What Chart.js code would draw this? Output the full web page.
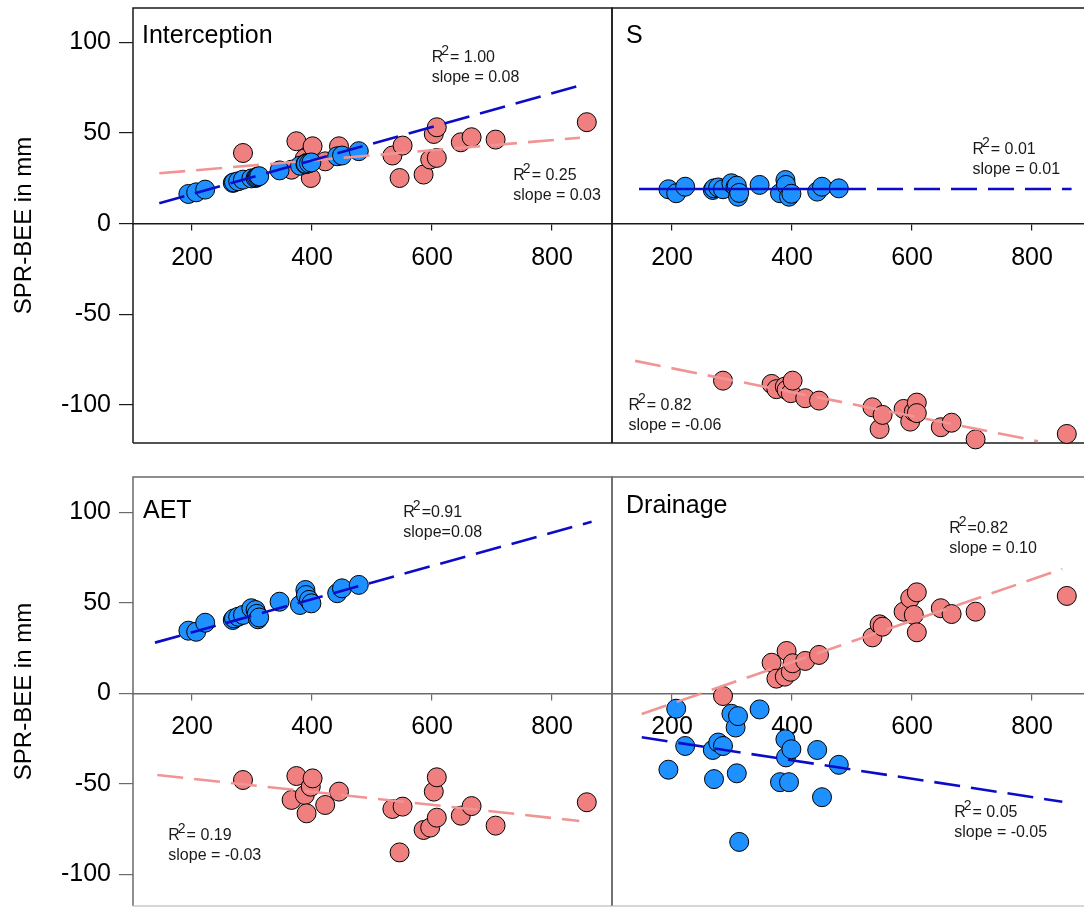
<!DOCTYPE html>
<html><head><meta charset="utf-8">
<script src="https://cdn.jsdelivr.net/npm/chart.js@4/dist/chart.umd.min.js"></script>
<style>
html,body{margin:0;padding:0;background:#fff;overflow:hidden;width:1084px;height:908px;}
canvas{position:absolute;}
</style></head><body>
<canvas id="cInterception" width="622" height="470" style="left:0;top:0"></canvas>
<canvas id="cS" width="500" height="470" style="left:600px;top:0"></canvas>
<canvas id="cAET" width="622" height="448" style="left:0;top:460px"></canvas>
<canvas id="cDrainage" width="500" height="448" style="left:600px;top:460px"></canvas>
<script>
const FONT = '"Liberation Sans", Arial, Helvetica, sans-serif';

// ---- data ----
const blueX = [194, 207, 222, 268, 270, 277, 285, 299, 306, 308, 310, 312, 346, 380, 389, 390, 395, 399, 442, 450, 478];
const redX  = [285, 366, 374, 388, 391, 398, 401, 422, 445, 534, 546, 551, 586, 597, 603, 608, 608, 648, 666, 706, 858];

const interceptionBlueY = [16.4, 17.3, 18.8, 22.5, 22.8, 23.4, 24.3, 25.0, 25.2, 25.6, 26.1, 26.2, 29.4, 32.0, 32.8, 33.0, 33.3, 33.8, 37.2, 37.6, 40.0];
const interceptionRedY  = [39, 29.8, 45.5, 36, 33.5, 25.2, 42.7, 34.4, 42.7, 37.6, 25.2, 43.1, 27.1, 35.4, 49.5, 53.2, 36.3, 44.9, 47.7, 46.4, 56];

const sBlueY = [19, 16.8, 20.4, 18.6, 19.5, 20, 19, 22.3, 20.4, 21, 14.9, 17, 21.4, 16.8, 24.1, 21.4, 14.9, 16.5, 17.7, 20.4, 19.5];
const sRedY  = [-86.6, -88.4, -91.3, -89.9, -91.7, -93.5, -86.6, -96.3, -97.6, -101.3, -113.3, -105.5, -102.2, -109.2, -103.7, -98.7, -104.5, -112.3, -109.8, -119, -116];

const aetBlueY = [34.7, 34.1, 39.1, 40.6, 41.5, 42.4, 43.4, 47.1, 46.1, 44, 41, 42, 50.7, 48.9, 57.2, 54.4, 51.7, 49.8, 55.4, 58.1, 60];
const aetRedY  = [-47.8, -58.8, -45.6, -56.1, -66.2, -51.5, -46.9, -61.6, -54.2, -63.8, -87.8, -62.5, -75.4, -74.1, -54.2, -68.6, -46.3, -67.5, -62.2, -73, -60.1];

const drainageBlueY = [-42.1, -8.4, -29, -31.2, -47.3, -27.1, -29, -11.2, -18.8, -44.1, -12.5, -82, -8.8, -49, -25.3, -35.3, -49, -30.8, -31.2, -57.3, -39.4];
const drainageRedY  = [-1.4, 17, 8.2, 9.3, 23.5, 12, 16.7, 18, 21.3, 31, 38.2, 36.9, 45.2, 52.6, 43.4, 55.9, 33.8, 47.1, 43.9, 45.2, 53.9];

// regression lines (x, y end points)
const interceptionBlueFitX = [145.5, 849.5], interceptionBlueFitY = [11.3, 76.5];
const interceptionRedFitX  = [145.5, 846.7], interceptionRedFitY  = [27.8, 47.4];
const sBlueFitX = [145, 480, 866], sBlueFitY = [19.1, 19.1, 19.1];
const sRedFitX  = [138.5, 810],   sRedFitY  = [-75.7, -120];
const aetBlueFitX = [138.3, 866], aetBlueFitY = [28.1, 94.9];
const aetRedFitX  = [142.2, 845.5], aetRedFitY = [-45, -70.4];
const drainageRedFitX  = [149.6, 850.5], drainageRedFitY  = [-11.3, 68.8];
const drainageBlueFitX = [149.6, 850.5], drainageBlueFitY = [-24.2, -59.8];

// statistics text
const interceptionStats = ['= 1.00', 'slope = 0.08', '= 0.25', 'slope = 0.03'];
const sStats            = ['= 0.01', 'slope = 0.01', '= 0.82', 'slope = -0.06'];
const aetStats          = ['=0.91', 'slope=0.08', '= 0.19', 'slope = -0.03'];
const drainageStats     = ['=0.82', 'slope = 0.10', '= 0.05', 'slope = -0.05'];

const xTickValues = [200, 400, 600, 800];
const xTickLabels = ['200', '400', '600', '800'];
const yTickValues = [100, 50, 0, -50, -100];
const yTickLabels = ['100', '50', '0', '-50', '-100'];
const yAxisTitle = 'SPR-BEE in mm';

// ---- style ----
const BLUE_FILL = '#1e90ff', RED_FILL = '#f08080';
const BLUE_LINE = '#0c0cc8', RED_LINE = '#f09494';
const DASH = [26, 11];

function pts(xs, ys) { return xs.map((x, i) => ({x: x, y: ys[i]})); }

function pointSet(xs, ys, fill, order) {
  return { data: pts(xs, ys), backgroundColor: fill, borderColor: '#000', borderWidth: 1,
    pointRadius: 9.5, pointHoverRadius: 9.5, showLine: false, clip: false, order: order };
}
function fitSets(fx, fy, color, order) {
  const out = [];
  if (fx.length === 3) {
    out.push({ data: pts(fx.slice(0, 2), fy.slice(0, 2)), showLine: true, borderColor: color, borderWidth: 2.6,
      pointRadius: 0, fill: false, order: order });
    out.push({ data: pts(fx.slice(1), fy.slice(1)), showLine: true, borderColor: color, borderWidth: 2.6,
      borderDash: DASH, pointRadius: 0, fill: false, order: order });
  } else {
    out.push({ data: pts(fx, fy), showLine: true, borderColor: color, borderWidth: 2.6,
      borderDash: DASH, pointRadius: 0, fill: false, order: order });
  }
  return out;
}

function zeroPad(s) { s.paddingTop = 0; s.paddingBottom = 0; s.paddingLeft = 0; s.paddingRight = 0; }

function makePanel(cfg) {
  const isLeft = cfg.side === 'left';
  const top = cfg.row === 'top';
  const axisColor = top ? '#1a1a1a' : '#6a6a6a';
  const datasets = [
    pointSet(redX, cfg.redY, RED_FILL, 4),
    pointSet(blueX, cfg.blueY, BLUE_FILL, 3),
    ...fitSets(cfg.redFit[0], cfg.redFit[1], RED_LINE, 2),
    ...fitSets(cfg.blueFit[0], cfg.blueFit[1], BLUE_LINE, 1)
  ];
  const framePlugin = {
    id: 'frame' + cfg.id,
    beforeDatasetsDraw(chart) {
      const ctx = chart.ctx, ca = chart.chartArea;
      ctx.save();
      ctx.lineWidth = 1.5;
      ctx.strokeStyle = axisColor;
      ctx.beginPath();
      ctx.moveTo(ca.left, ca.bottom); ctx.lineTo(ca.left, ca.top); ctx.lineTo(ca.right, ca.top); ctx.lineTo(ca.right, ca.bottom);
      ctx.stroke();
      ctx.strokeStyle = top ? axisColor : '#c8c8c8';
      ctx.beginPath(); ctx.moveTo(ca.left, ca.bottom); ctx.lineTo(ca.right, ca.bottom); ctx.stroke();
      ctx.restore();
    }
  };
  const textPlugin = {
    id: 'text' + cfg.id,
    afterDatasetsDraw(chart) {
      const ctx = chart.ctx, ca = chart.chartArea;
      const xs = chart.scales.x, ys = chart.scales.y;
      ctx.save();
      ctx.textAlign = 'left'; ctx.textBaseline = 'alphabetic';
      ctx.fillStyle = '#000';
      ctx.font = '25px ' + FONT;
      ctx.fillText(cfg.title, ca.left + cfg.titleDx, ca.top + cfg.titleDy);
      cfg.notes.forEach((n, k) => {
        const px = xs.getPixelForValue(n[0]), py = ys.getPixelForValue(n[1]);
        ctx.fillStyle = '#1a1a1a';
        ctx.font = '16px ' + FONT;
        ctx.fillText('R', px, py);
        const wR = ctx.measureText('R').width;
        ctx.font = '14px ' + FONT;
        const sx = px + wR - 2;
        ctx.fillText('2', sx, py - 7);
        const w2 = ctx.measureText('2').width;
        ctx.font = '16px ' + FONT;
        ctx.fillText(cfg.stats[2 * k], sx + w2 + 1, py);
        ctx.fillText(cfg.stats[2 * k + 1], px, py + 20);
      });
      ctx.restore();
    }
  };
  const yRange = top ? [-121, 119] : [-117.4, 119.6];
  const xRange = isLeft ? [101.7, 900] : [100, 900];
  new Chart(document.getElementById(cfg.id), {
    type: 'scatter',
    data: { datasets: datasets },
    plugins: [framePlugin, textPlugin],
    options: {
      responsive: false, animation: false, devicePixelRatio: 1, events: [],
      layout: { autoPadding: false,
                padding: isLeft ? { left: 0, right: 10, top: top ? 8 : 17, bottom: top ? 27 : 2 }
                                : { left: 12, right: 8, top: top ? 8 : 17, bottom: top ? 27 : 2 } },
      plugins: { legend: { display: false }, tooltip: { enabled: false } },
      scales: {
        x: {
          type: 'linear', position: { y: 0 }, min: xRange[0], max: xRange[1],
          afterBuildTicks: s => { s.ticks = xTickValues.map(v => ({ value: v })); },
          afterFit: zeroPad,
          ticks: { callback: (v) => xTickLabels[xTickValues.indexOf(v)], color: '#000',
            font: { size: 25, family: FONT }, padding: 13, maxRotation: 0, autoSkip: false },
          grid: { display: true, drawOnChartArea: false, drawTicks: true, tickLength: 6, color: axisColor, lineWidth: 1.2 },
          border: { display: true, color: axisColor, width: 1.5 }
        },
        y: isLeft ? {
          type: 'linear', position: 'left', min: yRange[0], max: yRange[1],
          afterBuildTicks: s => { s.ticks = yTickValues.map(v => ({ value: v })); },
          afterFit: s => { s.width = 133; zeroPad(s); },
          ticks: { callback: (v) => yTickLabels[yTickValues.indexOf(v)], color: '#000',
            font: { size: 25, family: FONT }, padding: 8 },
          grid: { display: true, drawOnChartArea: false, drawTicks: true, tickLength: 14, color: axisColor, lineWidth: 1.2 },
          border: { display: false },
          title: { display: true, text: yAxisTitle, color: '#000', font: { size: 24, family: FONT },
            padding: { top: 10, bottom: 0 } }
        } : { type: 'linear', display: false, min: yRange[0], max: yRange[1], afterFit: zeroPad }
      }
    }
  });
}

makePanel({ id: 'cInterception', side: 'left', row: 'top', title: 'Interception', titleDx: 9, titleDy: 35,
  blueY: interceptionBlueY, redY: interceptionRedY,
  blueFit: [interceptionBlueFitX, interceptionBlueFitY], redFit: [interceptionRedFitX, interceptionRedFitY],
  stats: interceptionStats, notes: [[599.5, 89.4], [735.5, 24.1]] });
makePanel({ id: 'cS', side: 'right', row: 'top', title: 'S', titleDx: 14, titleDy: 35,
  blueY: sBlueY, redY: sRedY,
  blueFit: [sBlueFitX, sBlueFitY], redFit: [sRedFitX, sRedFitY],
  stats: sStats, notes: [[700.8, 38.5], [127.4, -102.8]] });
makePanel({ id: 'cAET', side: 'left', row: 'bottom', title: 'AET', titleDx: 10, titleDy: 41,
  blueY: aetBlueY, redY: aetRedY,
  blueFit: [aetBlueFitX, aetBlueFitY], redFit: [aetRedFitX, aetRedFitY],
  stats: aetStats, notes: [[552.2, 97.7], [160.5, -80.9]] });
makePanel({ id: 'cDrainage', side: 'right', row: 'bottom', title: 'Drainage', titleDx: 14, titleDy: 36,
  blueY: drainageBlueY, redY: drainageRedY,
  blueFit: [drainageBlueFitX, drainageBlueFitY], redFit: [drainageRedFitX, drainageRedFitY],
  stats: drainageStats, notes: [[662, 88.5], [670.3, -68.4]] });
</script>
</body></html>
